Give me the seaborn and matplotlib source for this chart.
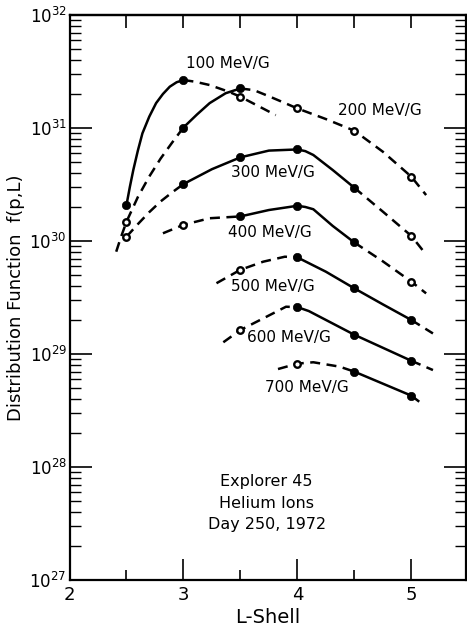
import numpy as np
import seaborn as sns
import matplotlib
matplotlib.use("Agg")
import matplotlib.pyplot as plt
from matplotlib.ticker import LogLocator, NullFormatter, FixedLocator

##################### values

energies = ["100 MeV/G", "200 MeV/G", "300 MeV/G", "400 MeV/G",
            "500 MeV/G", "600 MeV/G", "700 MeV/G"]

# 100 MeV/G
L100_solid = [2.5, 2.53, 2.56, 2.60, 2.64, 2.70, 2.76, 2.82, 2.88, 2.94, 3.0]
f100_solid = [2.08e30, 3.02e30, 4.25e30, 6.31e30, 8.97e30, 1.26e31, 1.66e31,
              2.0e31, 2.32e31, 2.54e31, 2.66e31]
L100_dash = [3.0, 3.1, 3.23, 3.40, 3.5, 3.67, 3.81]
f100_dash = [2.66e31, 2.57e31, 2.40e31, 2.09e31, 1.89e31, 1.54e31, 1.30e31]
L100_pts = [2.5, 3.0, 3.5]
f100_pts = [2.08e30, 2.66e31, 1.89e31]
filled100 = [True, True, False]

# 200 MeV/G
L200_dash_a = [2.41, 2.45, 2.5, 2.6, 2.7, 2.8, 2.9, 3.0]
f200_dash_a = [8.04e29, 1.07e30, 1.48e30, 2.45e30, 3.72e30, 5.37e30, 7.41e30, 1.01e31]
L200_solid = [3.0, 3.12, 3.23, 3.37, 3.5]
f200_solid = [1.01e31, 1.32e31, 1.66e31, 2.03e31, 2.24e31]
L200_dash_b = [3.5, 3.62, 3.75, 3.88, 4.0, 4.25, 4.5, 4.75, 5.0, 5.13]
f200_dash_b = [2.24e31, 2.16e31, 1.91e31, 1.68e31, 1.49e31, 1.20e31, 9.46e30,
               6.17e30, 3.71e30, 2.55e30]
L200_pts = [2.5, 3.0, 3.5, 4.0, 4.5, 5.0]
f200_pts = [1.48e30, 1.01e31, 2.24e31, 1.49e31, 9.46e30, 3.71e30]
filled200 = [False, True, True, False, False, False]

# 300 MeV/G
L300_dash_a = [2.5, 2.6, 2.7, 2.8, 2.9, 3.0]
f300_dash_a = [1.09e30, 1.41e30, 1.80e30, 2.24e30, 2.69e30, 3.19e30]
L300_solid = [3.0, 3.25, 3.5, 3.75, 4.0, 4.07, 4.14, 4.31, 4.5]
f300_solid = [3.19e30, 4.32e30, 5.50e30, 6.31e30, 6.46e30, 6.24e30, 5.77e30,
              4.25e30, 2.96e30]
L300_dash_b = [4.5, 4.75, 5.0, 5.11]
f300_dash_b = [2.96e30, 1.82e30, 1.11e30, 8.04e29]
L300_pts = [2.5, 3.0, 3.5, 4.0, 4.5, 5.0]
f300_pts = [1.09e30, 3.19e30, 5.50e30, 6.46e30, 2.96e30, 1.11e30]
filled300 = [False, True, True, True, True, False]

# 400 MeV/G
L400_dash_a = [2.82, 3.0, 3.23, 3.5]
f400_dash_a = [1.17e30, 1.39e30, 1.59e30, 1.65e30]
L400_solid = [3.5, 3.75, 4.0, 4.07, 4.14, 4.31, 4.5]
f400_solid = [1.65e30, 1.88e30, 2.05e30, 2.0e30, 1.91e30, 1.36e30, 9.70e29]
L400_dash_b = [4.5, 4.75, 5.0, 5.13]
f400_dash_b = [9.70e29, 6.61e29, 4.37e29, 3.44e29]
L400_pts = [3.0, 3.5, 4.0, 4.5, 5.0]
f400_pts = [1.39e30, 1.65e30, 2.05e30, 9.70e29, 4.37e29]
filled400 = [False, True, True, True, False]

# 500 MeV/G
L500_dash_a = [3.29, 3.5, 3.70, 3.89, 4.0]
f500_dash_a = [4.23e29, 5.56e29, 6.56e29, 7.26e29, 7.16e29]
L500_solid = [4.0, 4.25, 4.5, 4.75, 5.0]
f500_solid = [7.16e29, 5.35e29, 3.81e29, 2.75e29, 2.00e29]
L500_dash_b = [5.0, 5.19]
f500_dash_b = [2.00e29, 1.52e29]
L500_pts = [3.5, 4.0, 4.5, 5.0]
f500_pts = [5.56e29, 7.16e29, 3.81e29, 2.00e29]
filled500 = [False, True, True, True]

# 600 MeV/G
L600_dash_a = [3.35, 3.5, 3.73, 3.90, 4.0]
f600_dash_a = [1.27e29, 1.63e29, 2.14e29, 2.62e29, 2.60e29]
L600_solid = [4.0, 4.1, 4.5, 5.0]
f600_solid = [2.60e29, 2.40e29, 1.48e29, 8.71e28]
L600_dash_b = [5.0, 5.19]
f600_dash_b = [8.71e28, 7.21e28]
L600_pts = [3.5, 4.0, 4.5, 5.0]
f600_pts = [1.63e29, 2.60e29, 1.48e29, 8.71e28]
filled600 = [False, True, True, True]

# 700 MeV/G
L700_dash_a = [3.83, 4.0, 4.14, 4.37, 4.5]
f700_dash_a = [7.36e28, 8.22e28, 8.45e28, 7.73e28, 6.98e28]
L700_solid = [4.5, 5.0]
f700_solid = [6.98e28, 4.28e28]
L700_dash_b = [5.0, 5.07]
f700_dash_b = [4.28e28, 3.78e28]
L700_pts = [4.0, 4.5, 5.0]
f700_pts = [8.22e28, 6.98e28, 4.28e28]
filled700 = [False, True, True]

# label anchor points (L, f)
label_pos = [(3.39, 3.76e31), (4.72, 1.44e31), (3.785, 4.0e30), (3.76, 1.20e30),
             (3.785, 3.92e29), (3.93, 1.41e29), (4.08, 5.1e28)]

#####################

sns.set_style("ticks")
plt.rcParams["font.family"] = ["DejaVu Sans"]
plt.rcParams["mathtext.fontset"] = "dejavusans"
for key in ["text.color", "axes.edgecolor", "axes.labelcolor", "xtick.color", "ytick.color"]:
    plt.rcParams[key] = "black"

pieces = [
    (L100_solid, f100_solid, "-"), (L100_dash, f100_dash, "--"),
    (L200_dash_a, f200_dash_a, "--"), (L200_solid, f200_solid, "-"), (L200_dash_b, f200_dash_b, "--"),
    (L300_dash_a, f300_dash_a, "--"), (L300_solid, f300_solid, "-"), (L300_dash_b, f300_dash_b, "--"),
    (L400_dash_a, f400_dash_a, "--"), (L400_solid, f400_solid, "-"), (L400_dash_b, f400_dash_b, "--"),
    (L500_dash_a, f500_dash_a, "--"), (L500_solid, f500_solid, "-"), (L500_dash_b, f500_dash_b, "--"),
    (L600_dash_a, f600_dash_a, "--"), (L600_solid, f600_solid, "-"), (L600_dash_b, f600_dash_b, "--"),
    (L700_dash_a, f700_dash_a, "--"), (L700_solid, f700_solid, "-"), (L700_dash_b, f700_dash_b, "--"),
]
points = [
    (L100_pts, f100_pts, filled100), (L200_pts, f200_pts, filled200),
    (L300_pts, f300_pts, filled300), (L400_pts, f400_pts, filled400),
    (L500_pts, f500_pts, filled500), (L600_pts, f600_pts, filled600),
    (L700_pts, f700_pts, filled700),
]

fig = plt.figure(figsize=(4.67, 6.32), dpi=100)
ax = fig.add_axes([69.5 / 467, 52 / 632, (466 - 69.5) / 467, 565 / 632])

# curves: solid between measured points, dashed where extrapolated
for L, f, style in pieces:
    ls = "-" if style == "-" else (0, (4.0, 2.6))
    sns.lineplot(x=L, y=f, ax=ax, color="black", linewidth=1.8, linestyle=ls,
                 sort=False, estimator=None, legend=False)

# measured points: filled and open circles
for L, f, filled in points:
    L = np.array(L)
    f = np.array(f)
    filled = np.array(filled)
    sns.scatterplot(x=L[filled], y=f[filled], ax=ax, s=36, color="black",
                    edgecolor="black", linewidth=0.5, zorder=4, legend=False)
    sns.scatterplot(x=L[~filled], y=f[~filled], ax=ax, s=22, color="white",
                    edgecolor="black", linewidth=1.7, zorder=4, legend=False)

for name, (lx, ly) in zip(energies, label_pos):
    ax.text(lx, ly, name, ha="center", va="center", fontsize=11)

ax.text(3.73, 4.8e27, "Explorer 45\nHelium Ions\nDay 250, 1972", ha="center",
        va="center", fontsize=11.5, linespacing=1.55)

ax.set_yscale("log")
ax.set_xlim(2, 5.48)
ax.set_ylim(1e27, 1e32)

ax.xaxis.set_major_locator(FixedLocator([2, 3, 4, 5]))
ax.xaxis.set_minor_locator(FixedLocator([2.5, 3.5, 4.5]))
ax.yaxis.set_major_locator(LogLocator(base=10, numticks=10))
ax.yaxis.set_minor_locator(LogLocator(base=10, subs=np.arange(2, 10), numticks=10))
ax.yaxis.set_minor_formatter(NullFormatter())

ax.tick_params(axis="x", which="major", direction="in", length=15, width=1.2,
               labelsize=13, pad=4)
ax.tick_params(axis="x", which="minor", direction="in", length=7, width=1.2)
ax.tick_params(axis="y", which="major", direction="in", length=16, width=1.2,
               labelsize=12, pad=2, right=True)
ax.tick_params(axis="y", which="minor", direction="in", length=8, width=1.0, right=True)

top = ax.secondary_xaxis("top")
top.set_xticks([2.5, 3, 3.5, 4, 4.5, 5])
top.tick_params(direction="in", length=9, width=1.2, labeltop=False)
top.xaxis.set_minor_locator(FixedLocator([]))

for side in ["left", "right", "top", "bottom"]:
    ax.spines[side].set_linewidth(1.6)
top.spines["top"].set_linewidth(1.6)

ax.set_xlabel("L-Shell", fontsize=14)
ax.set_ylabel("Distribution Function  f(p,L)", fontsize=13)
ax.xaxis.set_label_coords(0.5, -0.05)
ax.yaxis.set_label_coords(-0.112, 0.5)

fig.savefig("out.png", dpi=100)
